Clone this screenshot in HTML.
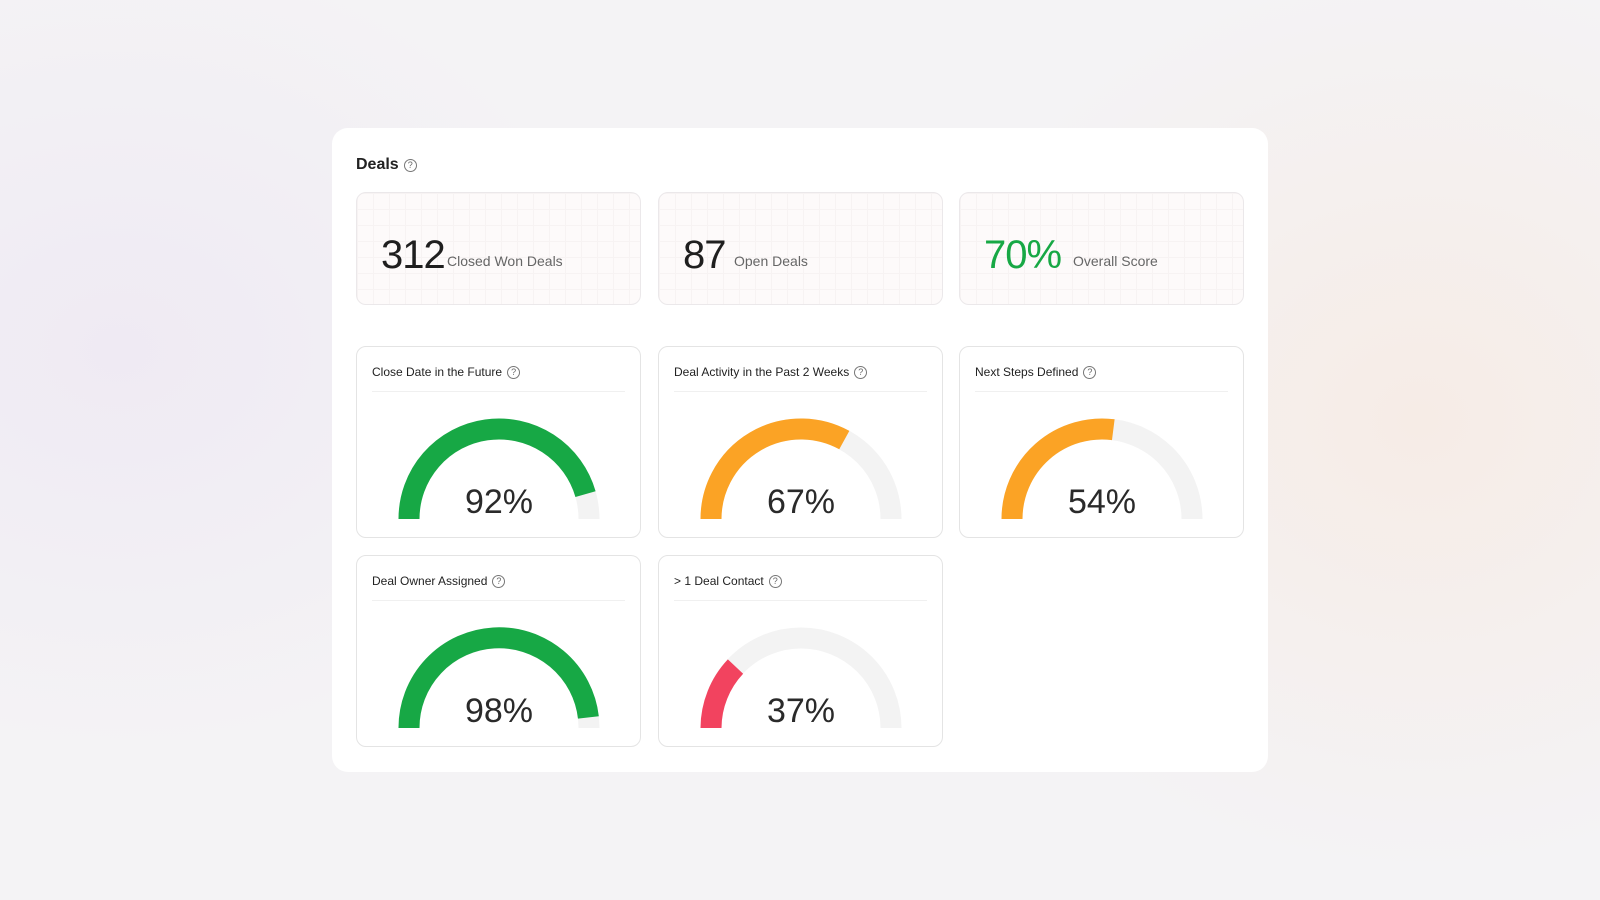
<!DOCTYPE html>
<html><head><meta charset="utf-8"><style>
*{margin:0;padding:0;box-sizing:border-box}
body{width:1600px;height:900px;overflow:hidden;font-family:"Liberation Sans",sans-serif;color:#222;
background:radial-gradient(ellipse 500px 400px at 120px 350px,#efeaf3,transparent),radial-gradient(ellipse 500px 450px at 1420px 420px,#f6ece6,transparent),#f4f3f5;position:relative}
.panel{position:absolute;left:332px;top:128px;width:936px;height:644px;background:#fff;border-radius:16px}
.h{position:absolute;left:24px;top:28px;font-size:16px;font-weight:bold;color:#222}
.q{display:inline-block;width:13px;height:13px;border:1.2px solid #777;border-radius:50%;font-size:9px;line-height:11px;text-align:center;color:#666;font-weight:normal;vertical-align:1px;margin-left:5px}
.stat{position:absolute;top:64px;width:285px;height:113px;border:1px solid #ebe8ea;border-radius:10px;
background-color:#fdfafa;background-image:linear-gradient(#f7f3f3 1px,transparent 1px),linear-gradient(90deg,#f7f3f3 1px,transparent 1px);background-size:16px 16px}
.stat .n{position:absolute;left:24px;top:40px;font-size:40px;letter-spacing:-1px;color:#1f1f1f}
.stat .l{position:absolute;top:60px;font-size:14px;color:#666}
.card{position:absolute;width:285px;height:192px;border:1px solid #e4e4e4;border-radius:10px;background:#fff}
.card .t{position:absolute;left:15px;top:18px;font-size:12px;color:#222}
.card .d{position:absolute;left:15px;right:15px;top:44px;border-top:1px solid #f0f0f0}
.card svg{position:absolute;left:0;top:0}
</style></head><body>
<div class="panel">
<div class="h">Deals<span class="q">?</span></div>
<div class="stat" style="left:24px"><span class="n">312</span><span class="l" style="left:90px">Closed Won Deals</span></div>
<div class="stat" style="left:326px"><span class="n">87</span><span class="l" style="left:75px">Open Deals</span></div>
<div class="stat" style="left:627px"><span class="n" style="color:#17a845">70%</span><span class="l" style="left:113px">Overall Score</span></div>

<div class="card" style="left:24px;top:218px"><div class="t">Close Date in the Future<span class="q">?</span></div><div class="d"></div>
<svg width="285" height="192"><path d="M52 172 A90 90 0 0 1 232 172" fill="none" stroke="#f3f3f3" stroke-width="21"/><path d="M52 172 A90 90 0 0 1 228.5 147.1" fill="none" stroke="#17a845" stroke-width="21"/><text x="142" y="166" text-anchor="middle" font-size="34" fill="#2a2a2a" font-family="Liberation Sans">92%</text></svg></div>

<div class="card" style="left:326px;top:218px"><div class="t">Deal Activity in the Past 2 Weeks<span class="q">?</span></div><div class="d"></div>
<svg width="285" height="192"><path d="M52 172 A90 90 0 0 1 232 172" fill="none" stroke="#f3f3f3" stroke-width="21"/><path d="M52 172 A90 90 0 0 1 185.3 93.1" fill="none" stroke="#fba325" stroke-width="21"/><text x="142" y="166" text-anchor="middle" font-size="34" fill="#2a2a2a" font-family="Liberation Sans">67%</text></svg></div>

<div class="card" style="left:627px;top:218px"><div class="t">Next Steps Defined<span class="q">?</span></div><div class="d"></div>
<svg width="285" height="192"><path d="M52 172 A90 90 0 0 1 232 172" fill="none" stroke="#f3f3f3" stroke-width="21"/><path d="M52 172 A90 90 0 0 1 153.3 82.7" fill="none" stroke="#fba325" stroke-width="21"/><text x="142" y="166" text-anchor="middle" font-size="34" fill="#2a2a2a" font-family="Liberation Sans">54%</text></svg></div>

<div class="card" style="left:24px;top:427px"><div class="t">Deal Owner Assigned<span class="q">?</span></div><div class="d"></div>
<svg width="285" height="192"><path d="M52 172 A90 90 0 0 1 232 172" fill="none" stroke="#f3f3f3" stroke-width="21"/><path d="M52 172 A90 90 0 0 1 231.4 161.4" fill="none" stroke="#17a845" stroke-width="21"/><text x="142" y="166" text-anchor="middle" font-size="34" fill="#2a2a2a" font-family="Liberation Sans">98%</text></svg></div>

<div class="card" style="left:326px;top:427px"><div class="t">&gt; 1 Deal Contact<span class="q">?</span></div><div class="d"></div>
<svg width="285" height="192"><path d="M52 172 A90 90 0 0 1 232 172" fill="none" stroke="#f3f3f3" stroke-width="21"/><path d="M52 172 A90 90 0 0 1 76.5 110.6" fill="none" stroke="#f2435f" stroke-width="21"/><text x="142" y="166" text-anchor="middle" font-size="34" fill="#2a2a2a" font-family="Liberation Sans">37%</text></svg></div>
</div>
</body></html>
